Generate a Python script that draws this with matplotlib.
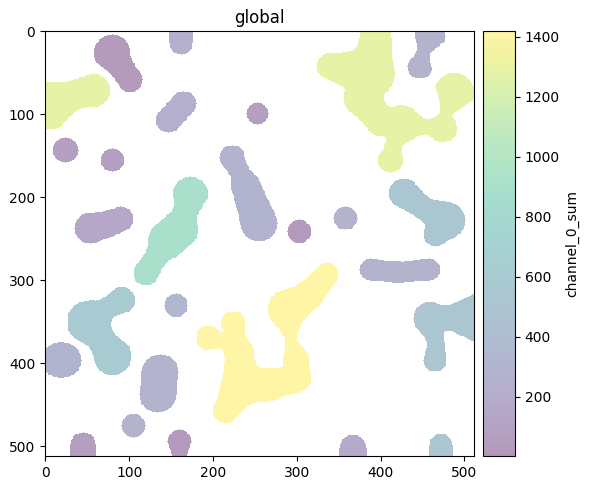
import numpy as np
import matplotlib
matplotlib.use("Agg")
import matplotlib.pyplot as plt

# per-label value (channel_0_sum)
label_values = [1290, 20, 230, 240, 60, 70, 70, 150, 900, 300,
                30, 280, 280, 1290, 280, 530, 520, 520, 180, 1415,
                610, 290, 330, 280, 280, 60, 30]
# blob outlines: chains of (x, y, r) circles in image pixels, joined by tapered strokes
label_shapes = [
    [[(6, 88, 30), (33, 77, 17), (57, 71, 20)]],
    [[(80, 26, 22), (92, 45, 14), (101, 58, 15)]],
    [[(162, 0, 14), (162, 14, 14)]],
    [[(165, 87, 15), (147, 107, 15)]],
    [[(253, 99, 13)]],
    [[(24, 143, 15)]],
    [[(80, 155, 14)]],
    [[(54, 237, 19), (75, 232, 15), (90, 226, 15)]],
    [[(173, 196, 21), (167, 219, 14), (160, 238, 22), (145, 252, 22), (132, 272, 13),
      (120, 291, 15)]],
    [[(223, 152, 15), (232, 170, 11), (239, 186, 17), (255, 231, 22)]],
    [[(303, 241, 14)]],
    [[(358, 225, 14)]],
    [[(388, 287, 13), (420, 290, 12), (458, 287, 13)]],
    [[(394, 0, 18), (394, 15, 19), (386, 50, 30), (378, 80, 21), (400, 108, 17),
      (425, 112, 22)],
     [(340, 42, 16), (386, 50, 30)],
     [(425, 112, 22), (416, 135, 9), (412, 155, 15)],
     [(425, 112, 22), (455, 115, 8), (474, 116, 17)],
     [(474, 116, 17), (478, 99, 6), (488, 74, 24)]],
    [[(458, 6, 19), (451, 25, 7), (447, 42, 15)]],
    [[(428, 195, 18), (450, 212, 13), (478, 228, 22)],
     [(478, 228, 22), (466, 244, 15)]],
    [[(459, 346, 19), (480, 345, 14), (510, 345, 28)],
     [(459, 346, 19), (466, 375, 9), (465, 396, 14)]],
    [[(472, 499, 14), (472, 515, 14)]],
    [[(367, 502, 16), (367, 515, 16)]],
    [[(195, 369, 15), (213, 374, 8), (231, 386, 16)],
     [(224, 352, 15), (228, 368, 10), (231, 386, 16), (235, 425, 24), (215, 457, 15)],
     [(235, 425, 24), (266, 426, 19), (300, 418, 16), (299, 395, 15), (293, 371, 6),
      (289, 335, 23)],
     [(289, 335, 23), (314, 318, 17), (336, 293, 14)]],
    [[(53, 350, 26), (74, 333, 12), (91, 324, 16)],
     [(53, 350, 26), (67, 372, 16), (80, 391, 23)]],
    [[(16, 396, 21), (22, 396, 21)]],
    [[(156, 330, 14)]],
    [[(137, 411, 22), (134, 437, 22)]],
    [[(105, 475, 14)]],
    [[(45, 498, 15), (45, 515, 15)]],
    [[(160, 494, 14), (160, 512, 9)]],
]


def smin(a, b, k=4.0):
    h = np.clip(0.5 + 0.5 * (b - a) / k, 0, 1)
    return b * (1 - h) + a * h - k * h * (1 - h)


def stroke(xx, yy, c0, c1):
    # distance to a tapered capsule between two circles
    ax_, ay_, ra = c0
    bx, by, rb = c1
    dx, dy = bx - ax_, by - ay_
    L2 = dx * dx + dy * dy
    if L2 == 0:
        return np.hypot(xx - ax_, yy - ay_) - ra
    t = np.clip(((xx - ax_) * dx + (yy - ay_) * dy) / L2, 0, 1)
    return np.hypot(xx - (ax_ + t * dx), yy - (ay_ + t * dy)) - (ra + t * (rb - ra))


n = 512
yy, xx = np.mgrid[0:n, 0:n].astype(float)
img = np.full((n, n), np.nan)
for val, chains in zip(label_values, label_shapes):
    d = None
    for chain in chains:
        if len(chain) == 1:
            parts = [stroke(xx, yy, chain[0], chain[0])]
        else:
            parts = [stroke(xx, yy, chain[i], chain[i + 1]) for i in range(len(chain) - 1)]
        for di in parts:
            d = di if d is None else smin(d, di)
    img[d <= 0] = val

img = np.ma.masked_invalid(img)

fig = plt.figure(figsize=(5.9, 4.91), dpi=100)
ax = fig.add_axes([45 / 590, 35 / 491, 429 / 590, 425 / 491])
cax = fig.add_axes([483 / 590, 35 / 491, 32 / 590, 425 / 491])

im = ax.imshow(img, cmap="viridis", alpha=0.4, vmin=3, vmax=1419,
               interpolation="nearest", aspect="auto")
ax.set_title("global")
ax.set_xticks([0, 100, 200, 300, 400, 500])
ax.set_yticks([0, 100, 200, 300, 400, 500])

cb = fig.colorbar(im, cax=cax)
cb.set_label("channel_0_sum")

fig.savefig("out.png", dpi=100)
